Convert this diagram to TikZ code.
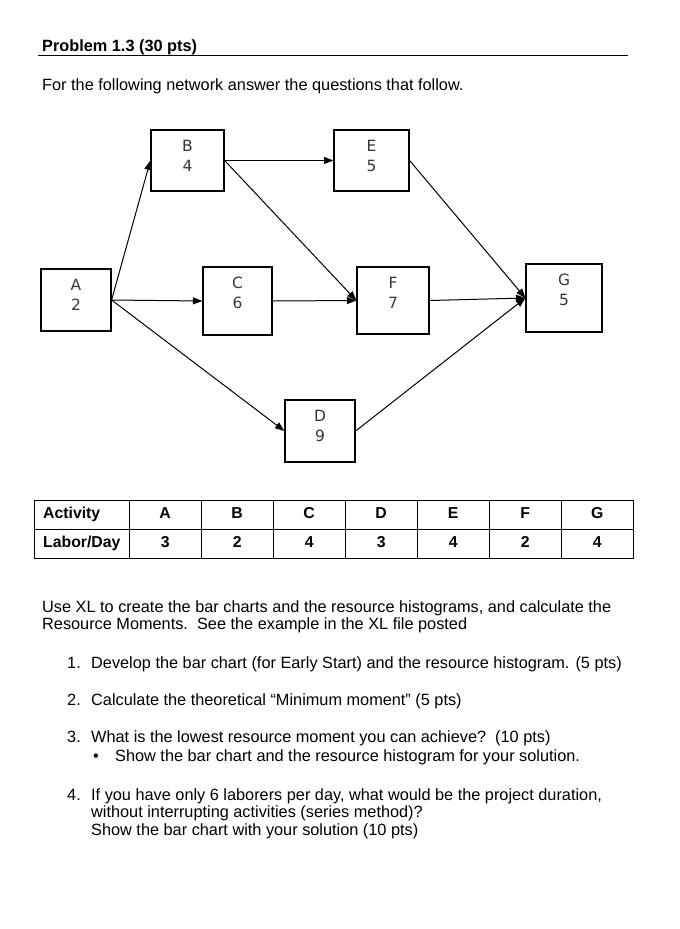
\documentclass[tikz,border=0pt]{standalone}
\usepackage{fontspec}
\setmainfont{Liberation Sans}
\newfontfamily\boxfont{DejaVu Sans}
\usetikzlibrary{arrows.meta,positioning,matrix}
\definecolor{cBoxText}{RGB}{55,55,55}
\tikzset{
  act/.style={draw=black, line width=1.2pt, minimum width=72pt, align=center,
              font=\boxfont\fontsize{15.5}{20}\selectfont, text=cBoxText,
              inner sep=0pt, text height=41.5pt, text depth=19.5pt},
  arr/.style={-{Triangle[length=9.5pt,width=7pt]}, line width=1pt},
  txt/.style={anchor=base west, align=left, inner sep=0pt,
              font=\fontsize{16.3}{17.5}\selectfont},
  cell/.style={draw, line width=1pt, minimum width=72pt, minimum height=29pt,
               inner sep=0pt, anchor=center, text height=11.5pt, text depth=3pt,
               font=\bfseries\fontsize{15.8}{17}\selectfont},
  hcell/.style={cell, minimum width=95pt, text width=77pt, align=left},
}
\begin{document}
\begin{tikzpicture}[x=1pt, y=-1pt]
  \useasboundingbox (0,0) rectangle (680,929);
  % heading
  \node[txt, font=\bfseries\fontsize{16.3}{17.5}\selectfont] (title) at (42,51) {Problem 1.3 (30 pts)};
  \draw[line width=1pt] (38,55.5) -- (628,55.5);
  \node[txt] (intro) at (42,90) {For the following network answer the questions that follow.};

  % network (text anchored on the last line)
  \node[act, minimum width=70pt, text depth=20.5pt] (A) at (76,300)   {A\\2};
  \node[act, minimum width=73pt] (B) at (187.5,160.5) {B\\4};
  \node[act, minimum width=75pt] (E) at (371.5,160.5) {E\\5};
  \node[act, minimum width=69pt, text depth=26.5pt] (C) at (237.5,301) {C\\6};
  \node[act, minimum width=72pt, text depth=25.5pt] (F) at (393,300.5) {F\\7};
  \node[act, minimum width=76pt, text depth=26.5pt] (G) at (564,298)   {G\\5};
  \node[act, minimum width=70pt, text depth=20.5pt] (D) at (320,431)   {D\\9};

  \draw[arr] (A.east) -- (B.west);
  \draw[arr] (A.east) -- (C.west);
  \draw[arr] (A.east) -- (D.west);
  \draw[arr] (B.east) -- (E.west);
  \draw[arr] (B.east) -- (F.west);
  \draw[arr] (C.east) -- (F.west);
  \draw[arr] (E.east) -- (G.west);
  \draw[arr] (F.east) -- (G.west);
  \draw[arr] (D.east) -- (G.west);

  % labour table
  \matrix (tab) [matrix of nodes, nodes={cell}, column sep=-1pt, row sep=-1pt,
                 inner sep=0pt, anchor=north west, ampersand replacement=\&] at (33.5,499.5) {
    |[hcell]| Activity  \& A \& B \& C \& D \& E \& F \& G \\
    |[hcell]| Labor/Day \& 3 \& 2 \& 4 \& 3 \& 4 \& 2 \& 4 \\
  };

  % questions
  \node[txt] (task) at (42,629.5) {Use XL to create the bar charts and the resource histograms, and calculate the\\Resource Moments.\ \ See the example in the XL file posted};
  \node[txt] (n1) at (67,668) {1.};
  \node[txt] (q1) at (91,668) {Develop the bar chart (for Early Start) and the resource histogram. (5 pts)};
  \node[txt] (n2) at (67,705) {2.};
  \node[txt] (q2) at (91,705) {Calculate the theoretical “Minimum moment” (5 pts)};
  \node[txt] (n3) at (67,742) {3.};
  \node[txt] (q3) at (91,742) {What is the lowest resource moment you can achieve?\ \ (10 pts)};
  \node[txt] (b3) at (93,761) {•};
  \node[txt] (s3) at (115,761) {Show the bar chart and the resource histogram for your solution.};
  \node[txt] (n4) at (67,800) {4.};
  \node[txt] (q4) at (91,835) {If you have only 6 laborers per day, what would be the project duration,\\without interrupting activities (series method)?\\Show the bar chart with your solution (10 pts)};
\end{tikzpicture}
\end{document}
